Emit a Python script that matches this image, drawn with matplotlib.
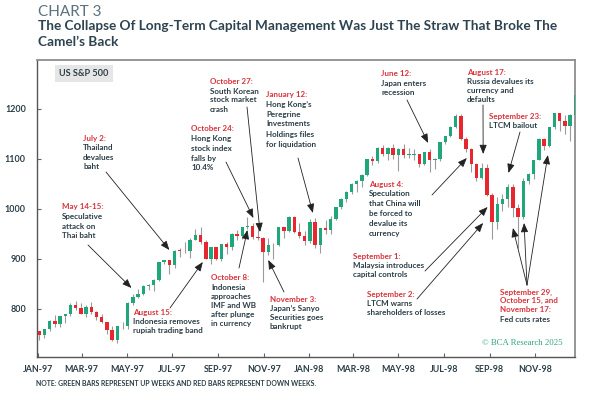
import matplotlib
matplotlib.use("Agg")
import matplotlib.pyplot as plt
import matplotlib.dates as mdates
import pandas as pd
import numpy as np

# ---------------- data (weekly S&P 500, week ending) ----------------
weeks = pd.date_range("1997-01-03", periods=104, freq="W-FRI")
opens = [756.8, 748.0, 759.5, 776.2, 770.5, 786.2, 789.6, 808.5, 801.8, 790.8,
         805.0, 793.2, 784.1, 773.9, 757.9, 737.7, 766.3, 765.4, 813.0, 824.8,
         829.8, 847.0, 848.3, 858.0, 893.3, 898.7, 887.3, 916.9, 916.7, 915.3,
         938.8, 947.1, 933.5, 900.8, 923.5, 899.5, 929.1, 923.9, 950.5, 945.2,
         965.0, 967.0, 944.2, 941.6, 914.6, 927.5, 928.4, 963.1, 955.4, 983.8,
         953.4, 946.8, 936.5, 975.0, 927.7, 961.5, 957.6, 980.3, 1003.5, 1020.1,
         1034.2, 1049.3, 1055.7, 1068.6, 1099.2, 1095.4, 1122.7, 1110.7, 1122.7, 1107.9,
         1121.0, 1108.1, 1108.7, 1110.5, 1090.8, 1113.9, 1098.8, 1100.7, 1133.2, 1146.4,
         1164.3, 1186.8, 1140.8, 1120.7, 1089.5, 1062.8, 1081.2, 1027.1, 973.9, 1009.1,
         1020.1, 1044.8, 1002.6, 984.6, 1056.4, 1070.7, 1098.7, 1141.0, 1125.7, 1163.6,
         1192.3, 1176.7, 1166.5, 1188.0]
highs = [757, 761, 778, 788, 786.5, 791, 812, 817, 813, 808,
         814, 796, 791, 775, 767, 767, 775, 815, 831, 841,
         849, 850, 860, 894, 899, 899, 918, 923, 935, 942,
         960, 964, 938, 925, 925, 930, 934, 952, 958, 965,
         984, 973, 970, 945, 942, 932, 964, 965, 986, 986,
         973, 957, 980, 982, 962, 978, 986, 1005, 1023, 1036,
         1052, 1058, 1071, 1101, 1106, 1125, 1128, 1124, 1131, 1122,
         1130, 1123, 1120, 1111, 1114, 1120, 1102, 1134, 1147, 1166,
         1190, 1190, 1145, 1122, 1093, 1093, 1091, 1033, 1024, 1031,
         1051, 1050, 1011, 1063, 1072, 1099, 1142, 1143, 1164, 1193,
         1193, 1188, 1190, 1230]
lows = [738, 743, 756, 765, 765, 773, 787, 798, 790, 785,
        790, 778, 772, 750, 737, 733, 760, 760, 808, 822,
        828, 838, 837, 857, 891, 870, 882, 905, 913, 903,
        938, 930, 900, 891, 898, 896, 910, 918, 938, 941,
        960, 940, 938, 855, 908, 900, 927, 943, 955, 952,
        942, 929, 932, 923, 912, 950, 950, 979, 1000, 1015,
        1030, 1035, 1045, 1066, 1088, 1093, 1107, 1098, 1100, 1076,
        1102, 1103, 1099, 1084, 1089, 1074, 1080, 1097, 1131, 1145,
        1163, 1138, 1114, 1074, 1057, 1060, 1027, 940, 960, 996,
        1005, 985, 923, 980, 1050, 1060, 1098, 1119, 1124, 1160,
        1157, 1150, 1136, 1188]
closes = [748.0, 759.5, 776.2, 770.5, 786.2, 789.6, 808.5, 801.8, 790.8, 805.0,
          793.2, 784.1, 773.9, 757.9, 737.7, 766.3, 765.4, 813.0, 824.8, 829.8,
          847.0, 848.3, 858.0, 893.3, 898.7, 887.3, 916.9, 916.7, 915.3, 938.8,
          947.1, 933.5, 900.8, 923.5, 899.5, 929.1, 923.9, 950.5, 945.2, 965.0,
          967.0, 944.2, 941.6, 914.6, 927.5, 928.4, 963.1, 955.4, 983.8, 953.4,
          946.8, 936.5, 975.0, 927.7, 961.5, 957.6, 980.3, 1003.5, 1020.1, 1034.2,
          1049.3, 1055.7, 1068.6, 1099.2, 1095.4, 1122.7, 1110.7, 1122.7, 1107.9, 1121.0,
          1108.1, 1108.7, 1110.5, 1090.8, 1113.9, 1098.8, 1100.7, 1133.2, 1146.4, 1164.3,
          1186.8, 1140.8, 1120.7, 1089.5, 1062.8, 1081.2, 1027.1, 973.9, 1009.1, 1020.1,
          1044.8, 1002.6, 984.6, 1056.4, 1070.7, 1098.7, 1141.0, 1125.7, 1163.6, 1192.3,
          1176.7, 1166.5, 1188.0, 1228.5]

yticks = [800, 900, 1000, 1100, 1200]
xtick_dates = ["1997-01-01", "1997-03-01", "1997-05-01", "1997-07-01", "1997-09-01",
               "1997-11-01", "1998-01-01", "1998-03-01", "1998-05-01", "1998-07-01",
               "1998-09-01", "1998-11-01"]
xtick_labels = ["JAN-97", "MAR-97", "MAY-97", "JUL-97", "SEP-97", "NOV-97",
                "JAN-98", "MAR-98", "MAY-98", "JUL-98", "SEP-98", "NOV-98"]

# annotation texts: (header lines, body lines)
events = [
    (["May 14-15:"], ["Speculative", "attack on", "Thai baht"]),
    (["July 2:"], ["Thailand", "devalues", "baht"]),
    (["October 27:"], ["South Korean", "stock market", "crash"]),
    (["October 24:"], ["Hong Kong", "stock index", "falls by", "10.4%"]),
    (["January 12:"], ["Hong Kong’s", "Peregrine", "Investments", "Holdings files", "for liquidation"]),
    (["June 12:"], ["Japan enters", "recession"]),
    (["August 17:"], ["Russia devalues its", "currency and", "defaults"]),
    (["September 23:"], ["LTCM bailout"]),
    (["August 4:"], ["Speculation", "that China will", "be forced to", "devalue its", "currency"]),
    (["September 1:"], ["Malaysia introduces", "capital controls"]),
    (["September 2:"], ["LTCM warns", "shareholders of losses"]),
    (["September 29,", "October 15, and", "November 17:"], ["Fed cuts rates"]),
    (["August 15:"], ["Indonesia removes", "rupiah trading band"]),
    (["October 8:"], ["Indonesia", "approaches", "IMF and WB", "after plunge", "in currency"]),
    (["November 3:"], ["Japan’s Sanyo", "Securities goes", "bankrupt"]),
]
# layout of those texts (x px, first header y px, line spacing px, gap before body px)
event_layout = [
    (62, 207, 9.3, 9.8), (83, 138, 9.3, 10), (210, 81, 9.0, 10), (191, 129, 9.5, 10),
    (266, 94, 10.0, 10), (381, 74, 9.0, 9.5), (467, 72, 9.0, 9.5), (489, 116, 10.0, 10),
    (369, 184, 10.0, 9.5), (353, 256, 9.0, 9.5), (367, 294, 9.0, 9.5), (500, 292, 8.6, 10),
    (133, 312, 9.0, 9.5), (211, 278, 9.2, 9), (270, 299, 9.0, 9.5),
]
# arrows: start (px), tip (date, value)
arrows = [
    ((88, 245), "1997-05-07", 842), ((106, 172), "1997-06-27", 918),
    ((247, 107), "1997-10-27", 954), ((226, 162), "1997-10-18", 982),
    ((298, 158), "1998-01-06", 992), ((407, 100), "1998-06-10", 1132),
    ((483, 105), "1998-08-23", 1110), ((520, 132), "1998-09-26", 1072),
    ((432, 195), "1998-08-01", 1102), ((425, 271), "1998-08-29", 1004),
    ((417, 299), "1998-08-23", 972), ((527, 285), "1998-10-02", 962),
    ((527, 285), "1998-10-17", 972), ((527, 285), "1998-11-18", 1108),
    ((170, 308), "1997-08-11", 894), ((239, 268), "1997-10-10", 958),
    ((284, 292), "1997-11-07", 898),
]

# ---------------- styling ----------------
GREEN = "#1fa67a"
RED = "#e8262d"
DARK = "#2c3e48"
REDTXT = "#d8333b"
FONT = ["Lato", "DejaVu Sans"]
plt.rcParams["font.family"] = FONT

W, H = 600, 399
fig = plt.figure(figsize=(6, 3.99), dpi=100)
fig.patch.set_facecolor("white")

def P(x, y):
    return (x / W, 1 - y / H)

ax = fig.add_axes([37 / W, 1 - 357 / H, (575 - 37) / W, (357 - 60) / H])

x = mdates.date2num(weeks.to_pydatetime())
o = np.array(opens); h = np.array(highs); l = np.array(lows); c = np.array(closes)
up = c >= o
cols = np.where(up, GREEN, RED)
ax.vlines(x, l, h, color="#9b9b9b", lw=0.8, zorder=2)
body_bottom = np.minimum(o, c)
body_h = np.maximum(np.abs(c - o), 1.5)
ax.bar(x, body_h, bottom=body_bottom, width=4.6, color=cols, zorder=3, linewidth=0)

ax.set_xlim(mdates.date2num(pd.Timestamp("1997-01-01")) - 1,
            mdates.date2num(pd.Timestamp("1998-12-24")) + 0.5)
ax.set_ylim(704, 1298)
ax.set_yticks(yticks)
ax.set_yticklabels([str(v) for v in yticks])
ax.set_xticks(mdates.date2num(pd.to_datetime(xtick_dates).to_pydatetime()))
ax.set_xticklabels(xtick_labels)
ax.tick_params(axis="both", direction="in", length=3, width=0.8, color="#666666",
               labelsize=6.4, labelcolor=DARK, pad=6)
for lab in ax.get_xticklabels() + ax.get_yticklabels():
    lab.set_fontweight("bold")
ax.tick_params(axis="y", pad=8)
for s in ax.spines.values():
    s.set_color("#8e8e8e")
    s.set_linewidth(1.3)
ax.spines["left"].set_color("#555555")
ax.spines["bottom"].set_color("#555555")
ax.spines["left"].set_linewidth(1.0)
ax.spines["bottom"].set_linewidth(1.0)

# title
fig.text(*P(38, 12), "CHART 3", fontsize=11, color="#5d717e", va="center", ha="left")
fig.text(*P(38, 26), "The Collapse Of Long-Term Capital Management Was Just The Straw That Broke The",
         fontsize=9.8, fontweight="bold", color="#2e4350", va="center", ha="left")
fig.text(*P(38, 42), "Camel’s Back", fontsize=9.8, fontweight="bold", color="#2e4350",
         va="center", ha="left")

# series label box
fig.text(*P(59, 73.5), "US S&P 500", fontsize=6.6, fontweight="bold", color=DARK,
         va="center", ha="left",
         bbox=dict(boxstyle="square,pad=0.45", facecolor="#e6e6e6", edgecolor="none"))

# annotation texts
for (hdrs, lines), (tx, ty, sp, gap) in zip(events, event_layout):
    yy = ty
    for j, t in enumerate(hdrs):
        if j:
            yy += sp
        fig.text(*P(tx, yy), t, fontsize=5.75, fontweight="bold", color=REDTXT,
                 va="center", ha="left")
    yy += gap
    for i, t in enumerate(lines):
        if i:
            yy += sp
        fig.text(*P(tx, yy), t, fontsize=5.75, fontweight="bold", color=DARK,
                 va="center", ha="left")

# arrows
for (sx, sy), d, v in arrows:
    ax.annotate("", xy=(mdates.date2num(pd.Timestamp(d)), v), xycoords="data",
                xytext=P(sx, sy), textcoords="figure fraction",
                arrowprops=dict(arrowstyle="-|>,head_length=0.55,head_width=0.22",
                                color="#222222", lw=0.6, shrinkA=0, shrinkB=0),
                annotation_clip=False, zorder=5)

# footnote and source
fig.text(*P(36, 384), "NOTE: GREEN BARS REPRESENT UP WEEKS AND RED BARS REPRESENT DOWN WEEKS.",
         fontsize=4.95, fontweight="bold", color=DARK, va="center", ha="left")
fig.text(*P(563, 343), "© BCA Research 2025", fontsize=6.3, color="#2fa57c",
         family=["Liberation Serif", "DejaVu Serif"], va="center", ha="right")

fig.savefig("out.png", dpi=100)
